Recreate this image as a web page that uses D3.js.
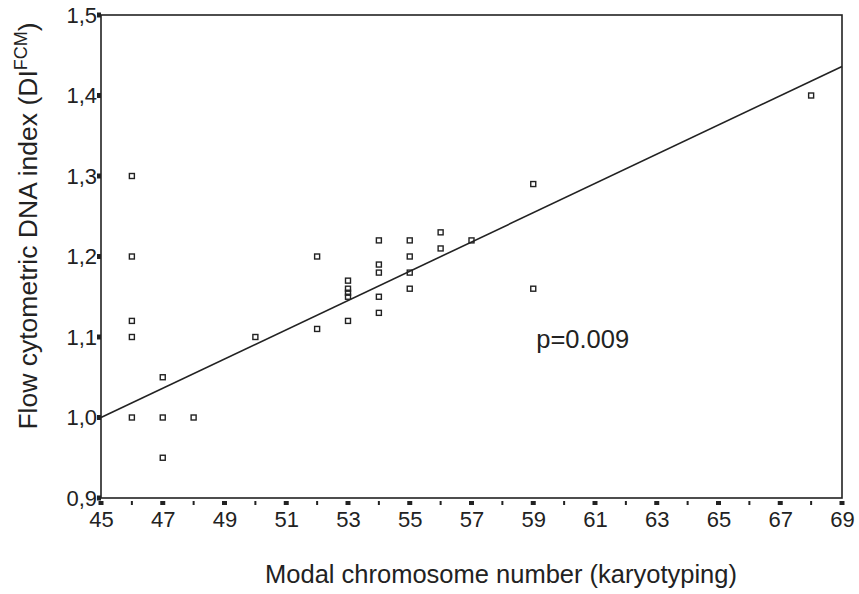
<!DOCTYPE html>
<html>
<head>
<meta charset="utf-8">
<script src="https://cdn.jsdelivr.net/npm/d3@7"></script>
<style>
  body { margin: 0; background: #fff; }
  text { font-family: "Liberation Sans", Arial, sans-serif; fill: #222; }
</style>
</head>
<body>
<div id="chart"></div>
<script>
// chromosome number (karyotyping) vs DNA index (flow cytometry)
const chromosomeNumbers = [46, 46, 46, 46, 46, 47, 47, 47, 48, 50, 52, 52,
    53, 53, 53, 53, 53, 54, 54, 54, 54, 54, 55, 55, 55, 55, 56, 56, 57, 59, 59, 68];
const dnaIndex = [1.30, 1.20, 1.12, 1.10, 1.00, 1.05, 1.00, 0.95, 1.00, 1.10, 1.20, 1.11,
    1.17, 1.16, 1.155, 1.15, 1.12, 1.22, 1.19, 1.18, 1.15, 1.13, 1.22, 1.20, 1.18, 1.16,
    1.23, 1.21, 1.22, 1.29, 1.16, 1.40];
const fitX = [45, 69];
const fitY = [1.0, 1.436];
const xTicks = d3.range(45, 70, 2);
const xMinorTicks = d3.range(46, 69, 2);
const yTicks = [0.9, 1.0, 1.1, 1.2, 1.3, 1.4, 1.5];
const pLabel = "p=0.009";

const dimensions = {
    width: 859,
    height: 594,
    margin: { top: 15, right: 17, bottom: 96, left: 101 }
};
const innerW = dimensions.width - dimensions.margin.left - dimensions.margin.right;
const innerH = dimensions.height - dimensions.margin.top - dimensions.margin.bottom;

const svg = d3.select("#chart")
    .append("svg")
    .attr("width", dimensions.width)
    .attr("height", dimensions.height);

const g = svg.append("g")
    .attr("transform", `translate(${dimensions.margin.left},${dimensions.margin.top})`);

const xScale = d3.scaleLinear().domain([45, 69]).range([0, innerW]);
const yScale = d3.scaleLinear().domain([0.9, 1.5]).range([innerH, 0]);

// frame
g.append("rect")
    .attr("width", innerW)
    .attr("height", innerH)
    .attr("fill", "none")
    .attr("stroke", "#222")
    .attr("stroke-width", 1.6);

// x axis: major ticks as small blocks, minor as thin marks
const xAxis = g.append("g")
    .attr("transform", `translate(0,${innerH})`)
    .call(d3.axisBottom(xScale).tickValues(xTicks).tickSize(0).tickPadding(13).tickFormat(d3.format("d")));
xAxis.select(".domain").remove();
xAxis.selectAll("text")
    .attr("font-size", 22)
    .attr("font-family", "Liberation Sans, Arial, sans-serif")
    .attr("fill", "#222");

g.selectAll(".xmajor")
    .data(xTicks)
    .enter()
    .append("rect")
    .attr("class", "xmajor")
    .attr("x", d => xScale(d) - 2.5)
    .attr("y", innerH + 3)
    .attr("width", 5)
    .attr("height", 4)
    .attr("fill", "#222");

g.selectAll(".xminor")
    .data(xMinorTicks)
    .enter()
    .append("rect")
    .attr("class", "xminor")
    .attr("x", d => xScale(d) - 1)
    .attr("y", innerH + 3)
    .attr("width", 2)
    .attr("height", 4)
    .attr("fill", "#222");

// y axis
const yAxis = g.append("g")
    .call(d3.axisLeft(yScale).tickValues(yTicks).tickSize(0).tickPadding(4)
        .tickFormat(d => d3.format(".1f")(d).replace(".", ",")));
yAxis.select(".domain").remove();
yAxis.selectAll("text")
    .attr("font-size", 22)
    .attr("font-family", "Liberation Sans, Arial, sans-serif")
    .attr("fill", "#222");

g.selectAll(".ytick")
    .data(yTicks)
    .enter()
    .append("rect")
    .attr("class", "ytick")
    .attr("x", -4)
    .attr("y", d => yScale(d) - 2.5)
    .attr("width", 4)
    .attr("height", 5)
    .attr("fill", "#222");

// regression line
g.append("line")
    .attr("x1", xScale(fitX[0]))
    .attr("y1", yScale(fitY[0]))
    .attr("x2", xScale(fitX[1]))
    .attr("y2", yScale(fitY[1]))
    .attr("stroke", "#222")
    .attr("stroke-width", 1.6);

// data points
const points = chromosomeNumbers.map((c, i) => ({ x: c, y: dnaIndex[i] }));
g.selectAll(".pt")
    .data(points)
    .enter()
    .append("rect")
    .attr("class", "pt")
    .attr("x", d => xScale(d.x) - 2.5)
    .attr("y", d => yScale(d.y) - 2.5)
    .attr("width", 5)
    .attr("height", 5)
    .attr("fill", "none")
    .attr("stroke", "#222")
    .attr("stroke-width", 1.4);

// p-value
g.append("text")
    .attr("x", xScale(59) + 3)
    .attr("y", yScale(1.1) + 11)
    .attr("font-size", 25.5)
    .text(pLabel);

// axis titles
svg.append("text")
    .attr("x", 501)
    .attr("y", 583)
    .attr("text-anchor", "middle")
    .attr("font-size", 25.5)
    .text("Modal chromosome number (karyotyping)");

const yTitle = svg.append("text")
    .attr("transform", "translate(37,226) rotate(-90)")
    .attr("text-anchor", "middle")
    .attr("font-size", 26.5);
yTitle.append("tspan").text("Flow cytometric DNA index (DI");
yTitle.append("tspan").attr("font-size", 18).attr("dy", -10).text("FCM");
yTitle.append("tspan").attr("dy", 10).text(")");
</script>
</body>
</html>
